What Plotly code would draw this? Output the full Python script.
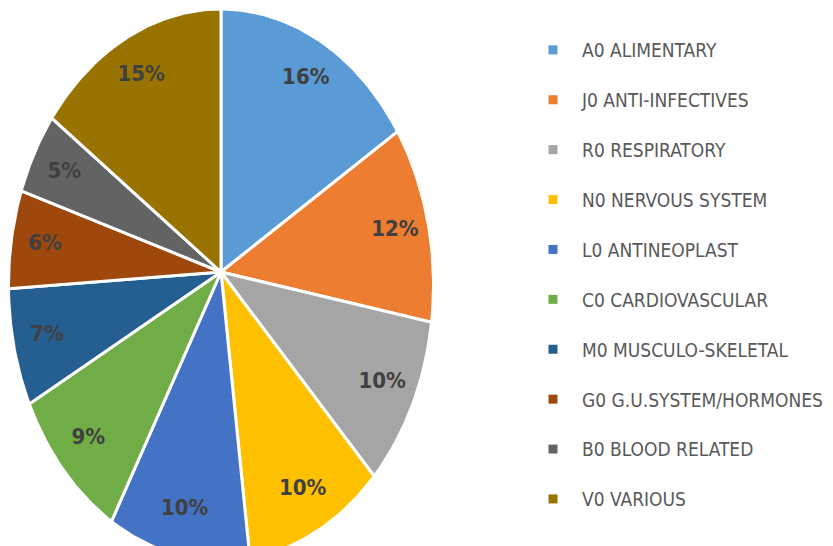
import numpy as np
import plotly.graph_objects as go

categories = ["A0 ALIMENTARY", "J0 ANTI-INFECTIVES", "R0 RESPIRATORY", "N0 NERVOUS SYSTEM",
              "L0 ANTINEOPLAST", "C0 CARDIOVASCULAR", "M0 MUSCULO-SKELETAL",
              "G0 G.U.SYSTEM/HORMONES", "B0 BLOOD RELATED", "V0 VARIOUS"]
values = [16, 12, 10, 10, 10, 9, 7, 6, 5, 15]
colors = ["#5B9BD5", "#ED7D31", "#A5A5A5", "#FFC000", "#4472C4",
          "#70AD47", "#255E91", "#9E480E", "#636363", "#997300"]

W, H = 833, 546
# geometry of the (stretched) pie, in pixels
AX, AY = 213, 264          # apex where slices meet
OX, OY = 213, 277          # centre of the outer outline
ORX, ORY = 212.5, 276      # outline radii
DRX, DRY = 212.5, 266      # direction stretch of slice rays
FONT = "DejaVu Sans Condensed, Liberation Sans Narrow, Roboto, sans-serif"


def rim(theta):
    """Point on outline reached by the ray at data angle theta (clockwise from top)."""
    dx = DRX * np.sin(theta)
    dy = -DRY * np.cos(theta)
    ex, ey = dx / ORX, dy / ORY
    ox, oy = (AX - OX) / ORX, (AY - OY) / ORY
    a = ex ** 2 + ey ** 2
    b = 2 * (ox * ex + oy * ey)
    c = ox ** 2 + oy ** 2 - 1
    t = (-b + np.sqrt(b * b - 4 * a * c)) / (2 * a)
    return AX + t * dx, AY + t * dy


total = sum(values)
fracs = [v / total for v in values]

fig = go.Figure()
start = 0.0
label_x, label_y, label_t = [], [], []
for cat, f, col in zip(categories, fracs, colors):
    a0, a1 = start * 2 * np.pi, (start + f) * 2 * np.pi
    th = np.linspace(a0, a1, max(int(f * 400), 8))
    px, py = rim(th)
    xs = np.concatenate([[AX], px, [AX]])
    ys = np.concatenate([[AY], py, [AY]])
    fig.add_trace(go.Scatter(x=xs, y=ys, fill="toself", fillcolor=col, mode="lines",
                             line=dict(color="white", width=3), showlegend=False,
                             hoverinfo="skip"))
    mx, my = rim((a0 + a1) / 2)
    label_x.append(AX + 0.84 * (mx - AX))
    label_y.append(AY + 0.84 * (my - AY))
    label_t.append(f"{round(f * 100)}%")
    start += f

fig.add_trace(go.Scatter(x=label_x, y=label_y, text=label_t, mode="text",
                         textfont=dict(family=FONT, size=22, color="#404040", weight="bold"),
                         showlegend=False, hoverinfo="skip"))

for i, (cat, col) in enumerate(zip(categories, colors)):
    fig.add_trace(go.Scatter(x=[None], y=[None], mode="markers", name=cat,
                             legendgroup=f"g{i}",
                             marker=dict(symbol="square", size=9, color=col)))

fig.update_layout(
    width=W, height=H, margin=dict(l=0, r=0, t=0, b=0, autoexpand=False),
    paper_bgcolor="white", plot_bgcolor="white",
    xaxis=dict(range=[0, W], visible=False, domain=[0, 1], fixedrange=True),
    yaxis=dict(range=[H, 0], visible=False, domain=[0, 1], fixedrange=True),
    showlegend=True,
    legend=dict(x=516 / W, y=1 - 23 / H, xanchor="left", yanchor="top",
                font=dict(family=FONT, size=19, color="#595959"),
                tracegroupgap=22.2, itemwidth=48, bgcolor="rgba(0,0,0,0)"),
)
fig.write_html("out.html")
